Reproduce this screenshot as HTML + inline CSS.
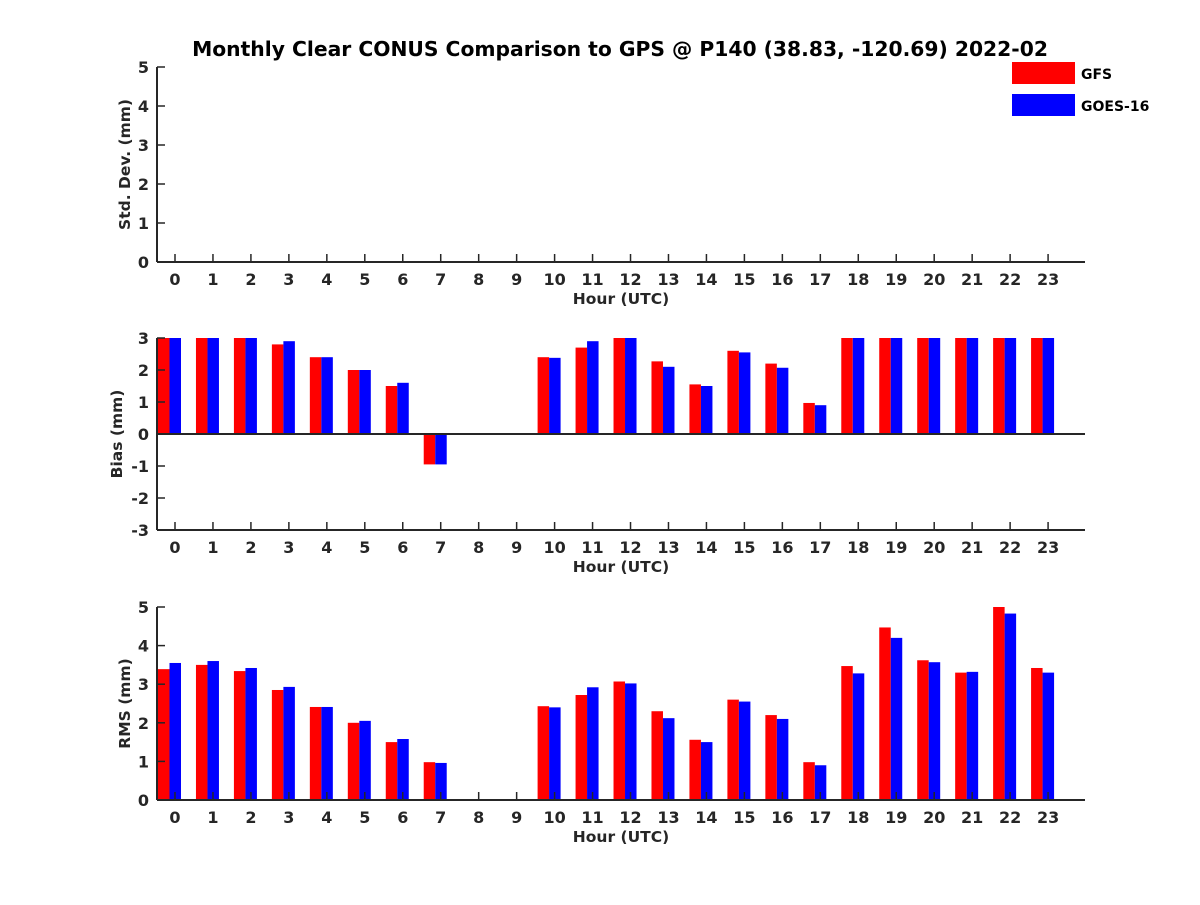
<!DOCTYPE html>
<html><head><meta charset="utf-8"><style>
body{margin:0;background:#fff;}
svg text{font-family:"DejaVu Sans","Liberation Sans",sans-serif;font-weight:bold;fill:#262626;}
</style></head><body>
<svg id="chart" width="1200" height="900" xmlns="http://www.w3.org/2000/svg">
<text x="620" y="56" font-size="20.3" text-anchor="middle" style="fill:#000">Monthly Clear CONUS Comparison to GPS @ P140 (38.83, -120.69) 2022-02</text>
<g>
<rect x="1012" y="62" width="63" height="22" fill="#ff0000"/>
<text x="1081" y="79" font-size="14" style="fill:#000">GFS</text>
<rect x="1012" y="94" width="63" height="22" fill="#0000ff"/>
<text x="1081" y="111" font-size="14" style="fill:#000">GOES-16</text>
</g>
<g id="panels"></g>
</svg>
<script>
const hours=[0,1,2,3,4,5,6,7,8,9,10,11,12,13,14,15,16,17,18,19,20,21,22,23];
const stdGfs=[];
const stdGoes=[];
const biasGfs=[3,3,3,2.8,2.4,2.0,1.5,-0.95,null,null,2.4,2.7,3,2.27,1.55,2.6,2.2,0.97,3,3,3,3,3,3];
const biasGoes=[3,3,3,2.9,2.4,2.0,1.6,-0.95,null,null,2.38,2.9,3,2.1,1.5,2.55,2.07,0.9,3,3,3,3,3,3];
const rmsGfs=[3.39,3.5,3.34,2.85,2.41,2.0,1.5,0.98,null,null,2.43,2.72,3.07,2.3,1.56,2.6,2.2,0.98,3.47,4.47,3.62,3.3,5.0,3.42];
const rmsGoes=[3.55,3.6,3.42,2.93,2.41,2.05,1.58,0.96,null,null,2.4,2.92,3.02,2.12,1.5,2.55,2.1,0.9,3.28,4.2,3.57,3.32,4.83,3.3];
const stdTicks=[0,1,2,3,4,5];
const biasTicks=[-3,-2,-1,0,1,2,3];
const rmsTicks=[0,1,2,3,4,5];

const NS="http://www.w3.org/2000/svg";
const root=document.getElementById('panels');
const X0=157,X1=1085;
function xs(h){return 175+h*37.96;}
function mk(tag,attrs,parent){const e=document.createElementNS(NS,tag);for(const k in attrs)e.setAttribute(k,attrs[k]);parent.appendChild(e);return e;}
function panel(name,top,bot,ymin,ymax,ticks,ylabel,a,b,lx){
  const g=mk('g',{},root);
  
  
  const ys=v=>bot-(v-ymin)/(ymax-ymin)*(bot-top);
  const base=ys(Math.max(ymin,Math.min(0,ymax)));
  const draw=(arr,off,col,ser)=>arr.forEach((v,i)=>{
    if(v==null)return;
    const vc=Math.max(ymin,Math.min(ymax,v));
    const y=ys(vc);const x=xs(hours[i])+off;
    const r=mk('rect',{x:x,y:Math.min(y,base),width:11.5,height:Math.abs(base-y),fill:col},g);
    
    
  });
  draw(a,-17,'#ff0000','gfs');
  draw(b,-5.5,'#0000ff','goes16');
  const ax=mk('line',{x1:X0,y1:top,x2:X0,y2:bot,stroke:'#262626','stroke-width':2},g);
  
  
  const xa=mk('line',{x1:X0,y1:bot,x2:X1,y2:bot,stroke:'#262626','stroke-width':2},g);
  
  
  if(ymin<0){const z=mk('line',{x1:X0,y1:base,x2:X1,y2:base,stroke:'#262626','stroke-width':2},g);
    
    }
  ticks.forEach(t=>{const y=ys(t);
    mk('line',{x1:X0,y1:y,x2:X0+8,y2:y,stroke:'#262626','stroke-width':1.5},g);
    const tx=mk('text',{x:X0-8,y:y+6,'font-size':16,'text-anchor':'end'},g);tx.textContent=t;
    
    });
  hours.forEach(h=>{const x=xs(h);
    mk('line',{x1:x,y1:bot,x2:x,y2:bot-8,stroke:'#262626','stroke-width':1.5},g);
    const tx=mk('text',{x:x,y:bot+23,'font-size':16,'text-anchor':'middle'},g);tx.textContent=h;
    
    });
  const xl=mk('text',{x:621,y:bot+42,'font-size':15.5,'text-anchor':'middle'},g);xl.textContent='Hour (UTC)';
  
  
  const cy=(top+bot)/2;
  const yl=mk('text',{x:lx,y:cy,'font-size':15.5,'text-anchor':'middle',transform:'rotate(-90 '+lx+' '+cy+')'},g);yl.textContent=ylabel;
  
  
}
panel('std',67,262,0,5,stdTicks,'Std. Dev. (mm)',stdGfs,stdGoes,130);
panel('bias',338,530,-3,3,biasTicks,'Bias (mm)',biasGfs,biasGoes,122);
panel('rms',607,800,0,5,rmsTicks,'RMS (mm)',rmsGfs,rmsGoes,130);
</script>
</body></html>
